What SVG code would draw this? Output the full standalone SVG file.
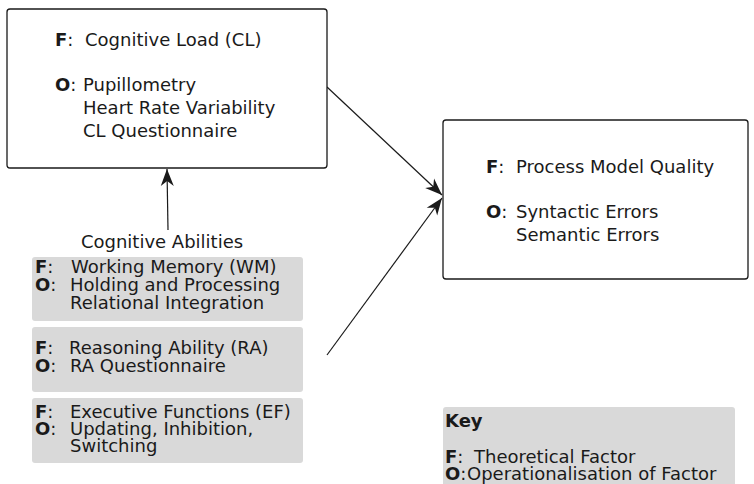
<svg xmlns="http://www.w3.org/2000/svg" width="754" height="484" viewBox="0 0 754 484">
<style>
text{font-family:"DejaVu Sans","Liberation Sans",sans-serif;font-size:18px;fill:#1a1a1a}
.b{font-weight:bold}
.box{fill:#fff;stroke:#1a1a1a;stroke-width:1.3}
.g{fill:#d9d9d9;stroke:none}
.c{stroke:#1a1a1a;stroke-width:1.2;fill:none;marker-end:url(#ah)}
</style>
<defs>
<marker id="ah" markerUnits="userSpaceOnUse" markerWidth="20" markerHeight="14" viewBox="-18 -7 20 14" refX="0" refY="0" orient="auto">
<path d="M0,0 L-17,-6.5 L-12,0 L-17,6.5 Z" fill="#1a1a1a"/>
</marker>
</defs>
<g id="connectors">
<line class="c" x1="327" y1="87" x2="442" y2="195"/>
<line class="c" x1="327" y1="355" x2="442" y2="198"/>
<line class="c" x1="168" y1="230" x2="167" y2="169"/>
</g>
<g id="cl">
<rect class="box" x="7" y="9" width="320" height="159" rx="3"/>
<text x="55" y="46"><tspan class="b">F</tspan>:<tspan x="85">Cognitive Load (CL)</tspan></text>
<text x="55" y="91"><tspan class="b">O</tspan>:<tspan x="83">Pupillometry</tspan></text>
<text x="83" y="114">Heart Rate Variability</text>
<text x="83" y="137">CL Questionnaire</text>
</g>
<g id="pmq">
<rect class="box" x="443" y="120" width="305" height="159" rx="3"/>
<text x="486" y="173"><tspan class="b">F</tspan>:<tspan x="516">Process Model Quality</tspan></text>
<text x="486" y="218"><tspan class="b">O</tspan>:<tspan x="516">Syntactic Errors</tspan></text>
<text x="516" y="241">Semantic Errors</text>
</g>
<g id="abilities">
<text x="162" y="248" text-anchor="middle">Cognitive Abilities</text>
</g>
<g id="wm">
<rect class="g" x="32" y="257" width="271" height="64" rx="3"/>
<text x="35" y="273"><tspan class="b">F</tspan>:<tspan x="71">Working Memory (WM)</tspan></text>
<text x="35" y="291"><tspan class="b">O</tspan>:<tspan x="70">Holding and Processing</tspan></text>
<text x="70" y="309">Relational Integration</text>
</g>
<g id="ra">
<rect class="g" x="32" y="327" width="271" height="65" rx="3"/>
<text x="35" y="354"><tspan class="b">F</tspan>:<tspan x="69">Reasoning Ability (RA)</tspan></text>
<text x="35" y="372"><tspan class="b">O</tspan>:<tspan x="70">RA Questionnaire</tspan></text>
</g>
<g id="ef">
<rect class="g" x="32" y="398" width="271" height="65" rx="3"/>
<text x="35" y="418"><tspan class="b">F</tspan>:<tspan x="70">Executive Functions (EF)</tspan></text>
<text x="35" y="435"><tspan class="b">O</tspan>:<tspan x="70">Updating, Inhibition,</tspan></text>
<text x="70" y="452">Switching</text>
</g>
<g id="key">
<rect class="g" x="443" y="407" width="292" height="85" rx="3"/>
<text class="b" x="445" y="427">Key</text>
<text x="445" y="463"><tspan class="b">F</tspan>:<tspan x="474">Theoretical Factor</tspan></text>
<text x="445" y="480"><tspan class="b">O</tspan>:<tspan x="467">Operationalisation of Factor</tspan></text>
</g>
</svg>
